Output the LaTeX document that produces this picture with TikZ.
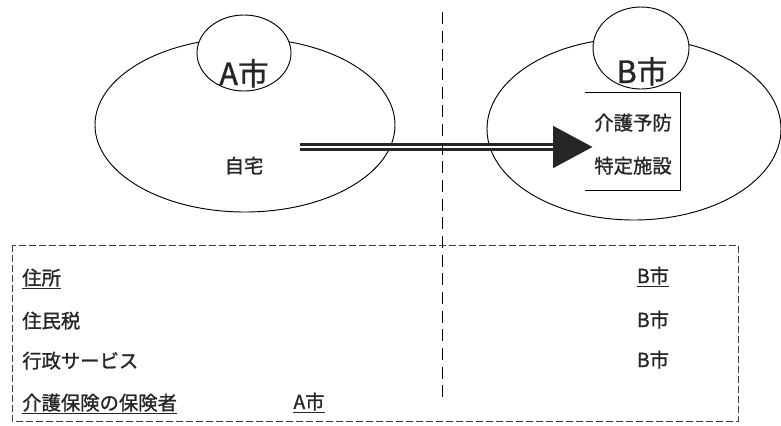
\documentclass[tikz,border=0pt]{standalone}
\usepackage{fontspec}
\setmainfont[FakeBold=1.2]{Noto Sans CJK JP}
\usetikzlibrary{shapes.geometric,arrows.meta}
\begin{document}
\begin{tikzpicture}[x=0.75pt,y=-0.75pt,
  city/.style={ellipse, draw, line width=0.7pt, inner sep=0pt},
  bubble/.style={ellipse, draw, fill=white, line width=0.7pt, inner sep=0pt},
  big/.style={font=\fontsize{23}{23}\selectfont, inner sep=0pt, anchor=base, text=black!85},
  txt/.style={font=\fontsize{14.5}{14.5}\selectfont, inner sep=0pt, anchor=base, text=black!85},
  row/.style={font=\fontsize{14.5}{14.5}\selectfont, inner sep=0pt, anchor=base west, text=black!85},
  vdash/.style={line width=0.7pt, dash pattern=on 9pt off 5pt},
  bdash/.style={line width=0.6pt, black!75, dash pattern=on 5pt off 2.5pt}
]
\useasboundingbox (0,0) rectangle (781,425);

% cities
\node[city, minimum width=300*0.75pt, minimum height=174*0.75pt] (cityA) at (245,125) {};
\node[bubble, minimum width=94*0.75pt, minimum height=76*0.75pt] (bubA) at (244,53) {};
\node[big] (labA) at (244,85) {A市};
\node[txt] (home) at (244,173) {自宅};

\node[city, minimum width=294*0.75pt, minimum height=182*0.75pt] (cityB) at (634,129) {};
\node[bubble, minimum width=96*0.75pt, minimum height=82*0.75pt] (bubB) at (641,48) {};
\node[big] (labB) at (642,83) {B市};

% facility box
\coordinate (f1) at (585,92);
\coordinate (f2) at (680,92);
\coordinate (f3) at (680,190);
\coordinate (f4) at (585,190);
\draw[line width=0.7pt] (f1) -- (f2) -- (f3) -- (f4);
\node[txt] (fac1) at (633,130) {介護予防};
\node[txt] (fac2) at (633,173) {特定施設};

% arrow
\coordinate (as) at (300,147);
\coordinate (at) at (593,147);
\coordinate (ab) at (553,147);
\draw[line width=6.2pt, black!85, -{Triangle[length=30pt,width=30pt]}] (as) -- (at);
\draw[white, line width=1.3pt] (as) -- (ab);

% vertical divider
\coordinate (v1) at (442,12);
\coordinate (v2) at (442,402);
\draw[vdash] (v1) -- (v2);

% dashed box
\coordinate (b1) at (12,245);
\coordinate (b2) at (738,421);
\draw[bdash] (b1) rectangle (b2);

% rows
\node[row] (r1) at (22,285) {\underline{住所}};
\node[row] (r2) at (22,328) {住民税};
\node[row] (r3) at (22,368) {行政サービス};
\node[row] (r4) at (22,410) {\underline{介護保険の保険者}};
\node[txt] (r4a) at (309,409) {\underline{A市}};
\node[txt] (r1b) at (653,283) {\underline{B市}};
\node[txt] (r2b) at (653,327) {B市};
\node[txt] (r3b) at (653,367) {B市};
\end{tikzpicture}
\end{document}
